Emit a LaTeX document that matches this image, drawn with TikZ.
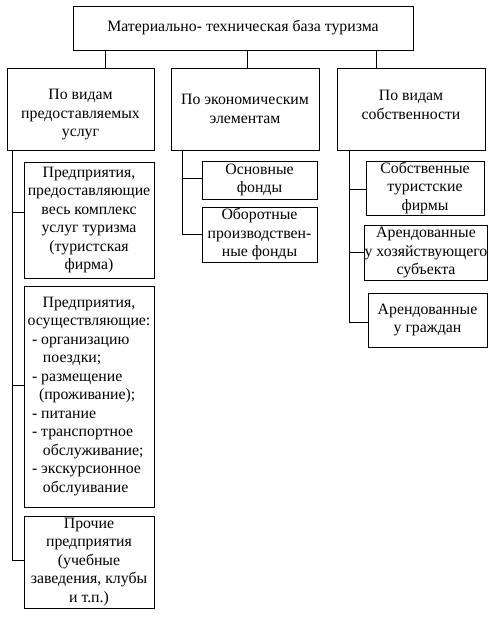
\documentclass[tikz,border=0pt]{standalone}
\usepackage{fontspec}
\setmainfont{Liberation Serif}
\begin{document}
\begin{tikzpicture}[x=1pt,y=-1pt,
  txt/.style={inner sep=0pt,align=center,font=\fontsize{15.8}{18.5}\selectfont},
  box/.style={draw,line width=0.9pt,txt},
  conn/.style={line width=0.9pt}]
\useasboundingbox (0,0) rectangle (497,617);
% top
\node[box,minimum width=340pt,minimum height=44pt] (top) at (243,28) {Материально- техническая база туризма};
% second row
\node[box,minimum width=147pt,minimum height=82pt,label={[txt,yshift=-6pt]center:{По видам\\предоставляемых\\услуг}}] (b1) at (80.5,109) {};
\node[box,minimum width=148pt,minimum height=82pt] (b2) at (245,109) {По экономическим\\элементам};
\node[box,minimum width=148pt,minimum height=82pt,label={[txt,yshift=4pt]center:{По видам\\собственности}}] (b3) at (411,109) {};
% left children
\node[box,minimum width=130pt,minimum height=116pt] (l1) at (89,220) {Предприятия,\\предоставляющие\\весь комплекс\\услуг туризма\\(туристская\\фирма)};
\node[box,minimum width=130pt,minimum height=221pt,text width=126pt,inner xsep=2pt,align=none] (l2) at (89,396.5) {\centering Предприятия,\\осуществляющие:\par
\raggedright\hspace*{6pt}- организацию\\
\hspace*{17pt}поездки;\\
\hspace*{6pt}- размещение\\
\hspace*{13pt}(проживание);\\
\hspace*{6pt}- питание\\
\hspace*{6pt}- транспортное\\
\hspace*{17pt}обслуживание;\\
\hspace*{6pt}- экскурсионное\\
\hspace*{17pt}обслуивание\par};
\node[box,minimum width=130pt,minimum height=92pt] (l3) at (89,562) {Прочие\\предприятия\\(учебные\\заведения, клубы\\и т.п.)};
% middle children
\node[box,minimum width=115pt,minimum height=38pt] (m1) at (259.5,180) {Основные\\фонды};
\node[box,minimum width=115pt,minimum height=55pt] (m2) at (259.5,234.5) {Оборотные\\производствен-\\ные фонды};
% right children
\node[box,minimum width=118pt,minimum height=54pt] (r1) at (425,188) {Собственные\\туристские\\фирмы};
\node[box,minimum width=118pt,minimum height=55pt] (r2) at (426,252.5) {Арендованные\\у хозяйствующего\\субъекта};
\node[box,minimum width=119pt,minimum height=54pt] (r3) at (427.5,320) {Арендованные\\у граждан};
% connector x positions
\coordinate (x1) at (105,0);
\coordinate (x2) at (247,0);
\coordinate (x3) at (376,0);
\coordinate (s1) at (12,0);
\coordinate (s2) at (182,0);
\coordinate (s3) at (349,0);
\draw[conn] (top.south -| x1) -- (b1.north -| x1);
\draw[conn] (top.south -| x2) -- (b2.north -| x2);
\draw[conn] (top.south -| x3) -- (b3.north -| x3);
% left spine
\draw[conn] (b1.south -| s1) -- ([yshift=2pt]l3.west -| s1) -- ([yshift=2pt]l3.west);
\draw[conn] ([yshift=8pt]l1.west -| s1) -- ([yshift=8pt]l1.west);
\draw[conn] ([yshift=11.5pt]l2.west -| s1) -- ([yshift=11.5pt]l2.west);
% middle spine
\draw[conn] (b2.south -| s2) -- (m2.west -| s2) -- (m2.west);
\draw[conn] ([yshift=2pt]m1.west -| s2) -- ([yshift=2pt]m1.west);
% right spine
\draw[conn] (b3.south -| s3) -- ([yshift=-2pt]r3.west -| s3) -- ([yshift=-2pt]r3.west);
\draw[conn] ([yshift=-1pt]r1.west -| s3) -- ([yshift=-1pt]r1.west);
\draw[conn] (r2.west -| s3) -- (r2.west);
\end{tikzpicture}
\end{document}
